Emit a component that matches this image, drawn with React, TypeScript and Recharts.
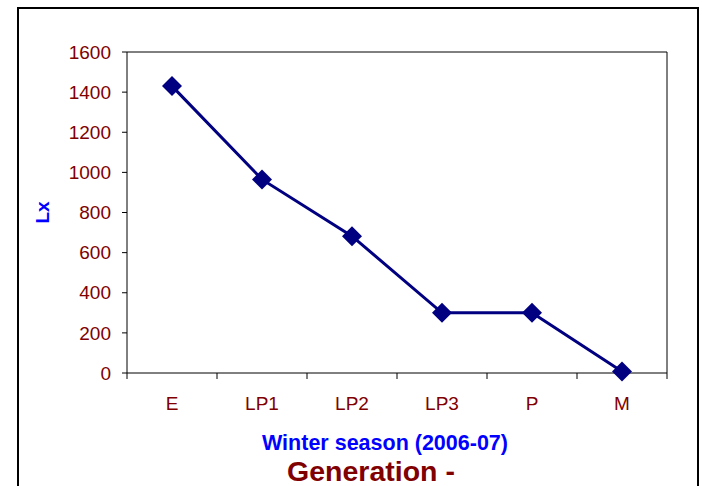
import React from "react";
import { LineChart, Line, XAxis, YAxis } from "recharts";

const categories = ["E", "LP1", "LP2", "LP3", "P", "M"];
const lxValues = [1430, 965, 682, 300, 300, 8];
const yTicks = [0, 200, 400, 600, 800, 1000, 1200, 1400, 1600];

const data = categories.map((stage, i) => ({ stage, lx: lxValues[i] }));

const FONT = "'Liberation Sans', Arial, Helvetica, sans-serif";
const DARK_RED = "#800000";
const NAVY = "#000080";

const W = 702;
const H = 486;
const margin = { top: 51, right: 34, bottom: 73, left: 67 };
const plotWidth = 540;
const halfBand = plotWidth / categories.length / 2;

const Diamond = (props: any) => {
  const { cx, cy, index } = props;
  const r = 10;
  return (
    <polygon
      key={`d-${index}`}
      points={`${cx},${cy - r} ${cx + r},${cy} ${cx},${cy + r} ${cx - r},${cy}`}
      fill={NAVY}
    />
  );
};

const XTick = (props: any) => {
  const { x, y, payload, index } = props;
  const last = index === categories.length - 1;
  return (
    <g>
      <line x1={x - halfBand} y1={y} x2={x - halfBand} y2={y + 6} stroke="#000" />
      {last && <line x1={x + halfBand} y1={y} x2={x + halfBand} y2={y + 6} stroke="#000" />}
      <text x={x} y={y + 37} textAnchor="middle" fill={DARK_RED} fontSize={19} fontFamily={FONT}>
        {payload.value}
      </text>
    </g>
  );
};

const XTitle = (props: any) => {
  const { viewBox } = props;
  const cx = viewBox.x + viewBox.width / 2;
  return (
    <g>
      <text
        x={cx - 12}
        y={viewBox.y + 77}
        textAnchor="middle"
        fill="#0000ff"
        fontSize={21.5}
        fontWeight="bold"
        fontFamily={FONT}
      >
        Winter season (2006-07)
      </text>
      <text
        x={cx - 26}
        y={viewBox.y + 108}
        textAnchor="middle"
        fill={DARK_RED}
        fontSize={28.5}
        fontWeight="bold"
        fontFamily={FONT}
      >
        Generation -
      </text>
    </g>
  );
};

const YTitle = (props: any) => {
  const { viewBox } = props;
  const x = viewBox.x - 25;
  const y = viewBox.y + viewBox.height / 2;
  return (
    <text
      x={x}
      y={y}
      transform={`rotate(-90 ${x} ${y})`}
      textAnchor="middle"
      dominantBaseline="central"
      fill="#0000ff"
      fontSize={19}
      fontWeight="bold"
      fontFamily={FONT}
    >
      Lx
    </text>
  );
};

export default function App() {
  return (
    <div style={{ position: "absolute", left: 0, top: 0, width: W, height: H, background: "#fff", overflow: "hidden" }}>
      <div
        style={{
          position: "absolute",
          left: 17,
          top: 7,
          width: 682,
          height: H - 7,
          boxSizing: "border-box",
          border: "2px solid #000",
          borderBottom: "none",
        }}
      />
      <div style={{ position: "absolute", left: 0, top: 0 }}>
        <LineChart width={W} height={H} data={data} margin={margin}>
          <XAxis
            dataKey="stage"
            height={40}
            padding={{ left: halfBand, right: halfBand }}
            axisLine={{ stroke: "#000" }}
            tickLine={false}
            tickSize={0}
            tickMargin={0}
            tick={<XTick />}
            interval={0}
            label={<XTitle />}
          />
          <XAxis
            xAxisId="top"
            dataKey="stage"
            orientation="top"
            height={1}
            tick={false}
            tickLine={false}
            axisLine={{ stroke: "#000" }}
          />
          <YAxis
            width={60}
            domain={[0, 1600]}
            ticks={yTicks}
            interval={0}
            axisLine={{ stroke: "#000" }}
            tickLine={{ stroke: "#000" }}
            tickSize={5}
            tickMargin={11}
            tick={{ fill: DARK_RED, fontSize: 19, fontFamily: FONT }}
            label={<YTitle />}
          />
          <YAxis
            yAxisId="right"
            orientation="right"
            width={1}
            domain={[0, 1600]}
            tick={false}
            tickLine={false}
            axisLine={{ stroke: "#000" }}
          />
          <Line
            type="linear"
            dataKey="lx"
            stroke={NAVY}
            strokeWidth={3}
            dot={Diamond}
            activeDot={false}
            isAnimationActive={false}
          />
        </LineChart>
      </div>
    </div>
  );
}
